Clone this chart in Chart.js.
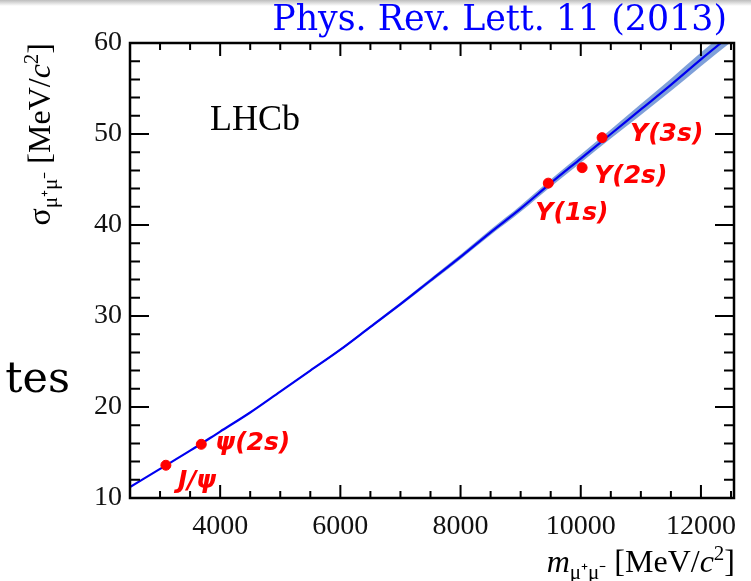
<!DOCTYPE html>
<html>
<head>
<meta charset="utf-8">
<script src="https://cdn.jsdelivr.net/npm/chart.js@4.4.1/dist/chart.umd.min.js"></script>
<style>
  html, body { margin: 0; padding: 0; background: #fff; }
  #wrap { position: relative; width: 751px; height: 581px; }
</style>
</head>
<body>
<div id="wrap"><canvas id="resChart"></canvas></div>
<script>
// Fitted resolution curve
const massGrid = [2500, 3000, 3500, 4000, 4500, 5000, 5500, 6000, 6500, 7000, 7500,
                  8000, 8500, 9000, 9500, 10000, 10500, 11000, 11500, 12000, 12500, 13000];
const sigmaFit = [11.2, 13.2, 15.2, 17.3, 19.4, 21.7, 24.0, 26.3, 28.8, 31.3, 33.9,
                  36.5, 39.2, 41.8, 44.6, 47.3, 50.0, 52.7, 55.4, 58.2, 60.9, 63.6];
const sigmaFitErr = [0.05, 0.05, 0.05, 0.06, 0.07, 0.08, 0.1, 0.12, 0.15, 0.18, 0.22,
                     0.26, 0.3, 0.35, 0.4, 0.45, 0.5, 0.6, 0.68, 0.75, 0.8, 0.85];

// Measured resonances
const resonanceNames = ['J/ψ', 'ψ(2s)', 'Υ(1s)', 'Υ(2s)', 'Υ(3s)'];
const resonanceMass = [3097, 3686, 9460, 10023, 10355];
const resonanceSigma = [13.6, 15.9, 44.6, 46.3, 49.6];

// Tick labels
const xTickLabels = [4000, 6000, 8000, 10000, 12000];
const yTickLabels = [10, 20, 30, 40, 50, 60];

const SERIF = '"Liberation Serif", "Times New Roman", serif';

// label offsets from the marker, in px
const labelOffsets = [[12, 16], [14, -1], [-13, 30], [12, 9], [28, -3]];

function tickRange(from, to, step) {
    const out = [];
    for (let v = from; v <= to + 1e-9; v += step) out.push({ value: v });
    return out;
}

function drawPieces(ctx, pieces, x, y) {
    pieces.forEach(p => {
        ctx.font = p.f;
        ctx.fillText(p.t, x, y + (p.dy || 0));
        x += ctx.measureText(p.t).width;
    });
}
function piecesWidth(ctx, pieces) {
    let w = 0;
    pieces.forEach(p => { ctx.font = p.f; w += ctx.measureText(p.t).width; });
    return w;
}

const decorPlugin = {
    id: 'decor',
    afterDraw(chart) {
        const ctx = chart.ctx;
        const a = chart.chartArea;
        const xs = chart.scales.x, ys = chart.scales.y;
        ctx.save();

        // top grey strip of the slide
        const g = ctx.createLinearGradient(0, 0, 0, 6);
        g.addColorStop(0, '#bdbdbd');
        g.addColorStop(1, '#ffffff');
        ctx.fillStyle = g;
        ctx.fillRect(0, 0, 751, 6);

        // frame
        ctx.strokeStyle = '#000';
        ctx.lineWidth = 2.5;
        ctx.strokeRect(a.left, a.top, a.right - a.left, a.bottom - a.top);

        // inward ticks on all four sides
        ctx.lineWidth = 2;
        ctx.beginPath();
        xs.ticks.forEach(t => {
            const px = xs.getPixelForValue(t.value);
            if (px <= a.left + 1 || px >= a.right - 1) return;
            const len = t.value % 2000 === 0 ? 13 : 7;
            ctx.moveTo(px, a.bottom); ctx.lineTo(px, a.bottom - len);
            ctx.moveTo(px, a.top); ctx.lineTo(px, a.top + len);
        });
        ys.ticks.forEach(t => {
            const py = ys.getPixelForValue(t.value);
            if (py <= a.top + 1 || py >= a.bottom - 1) return;
            const len = t.value % 10 === 0 ? 19 : 10;
            ctx.moveTo(a.left, py); ctx.lineTo(a.left + len, py);
            ctx.moveTo(a.right, py); ctx.lineTo(a.right - len, py);
        });
        ctx.stroke();

        // resonance labels
        const meta = chart.getDatasetMeta(3);
        ctx.fillStyle = '#ff0000';
        ctx.textAlign = 'left';
        ctx.textBaseline = 'middle';
        ctx.font = 'italic bold 25px "DejaVu Sans", sans-serif';
        meta.data.forEach((pt, i) => {
            ctx.fillText(resonanceNames[i], pt.x + labelOffsets[i][0], pt.y + labelOffsets[i][1]);
        });

        // LHCb
        ctx.fillStyle = '#000';
        ctx.textBaseline = 'alphabetic';
        ctx.font = '36px ' + SERIF;
        ctx.fillText('LHCb', 210, 130);

        // axis titles
        const big = '32px ' + SERIF, bigIt = 'italic 32px ' + SERIF, small = '21px ' + SERIF;
        const xPieces = [
            { t: 'm', f: bigIt },
            { t: 'μ⁺μ⁻', f: small, dy: 7 },
            { t: ' [MeV/', f: big },
            { t: 'c', f: bigIt },
            { t: '2', f: small, dy: -12 },
            { t: ']', f: big }
        ];
        drawPieces(ctx, xPieces, 735 - piecesWidth(ctx, xPieces), 572);

        const yPieces = [
            { t: 'σ', f: big },
            { t: 'μ⁺μ⁻', f: small, dy: 7 },
            { t: ' [MeV/', f: big },
            { t: 'c', f: bigIt },
            { t: '2', f: small, dy: -12 },
            { t: ']', f: big }
        ];
        ctx.save();
        ctx.translate(50, 43);
        ctx.rotate(-Math.PI / 2);
        drawPieces(ctx, yPieces, -piecesWidth(ctx, yPieces), 0);
        ctx.restore();

        // slide header
        ctx.fillStyle = '#0000ff';
        ctx.textAlign = 'right';
        ctx.font = '30px "DejaVu Serif", serif';
        const w = ctx.measureText('Phys. Rev. Lett. 11 (2013)').width;
        ctx.font = (30 * 455 / w).toFixed(1) + 'px "DejaVu Serif", serif';
        ctx.fillText('Phys. Rev. Lett. 11 (2013)', 727, 30);

        // cut-off slide text
        ctx.fillStyle = '#000';
        ctx.font = '43px "DejaVu Serif", serif';
        ctx.fillText('tes', 70, 392);

        ctx.restore();
    }
};

const fitPoints = massGrid.map((m, i) => ({ x: m, y: sigmaFit[i] }));
const bandHigh = massGrid.map((m, i) => ({ x: m, y: sigmaFit[i] + sigmaFitErr[i] }));
const bandLow = massGrid.map((m, i) => ({ x: m, y: sigmaFit[i] - sigmaFitErr[i] }));
const resPoints = resonanceMass.map((m, i) => ({ x: m, y: resonanceSigma[i] }));

new Chart(document.getElementById('resChart'), {
    type: 'line',
    data: {
        datasets: [{
            data: bandHigh,
            borderWidth: 0,
            pointRadius: 0,
            backgroundColor: 'rgba(120, 155, 215, 0.95)',
            fill: '+1',
            cubicInterpolationMode: 'monotone',
            order: 3
        }, {
            data: bandLow,
            borderWidth: 0,
            pointRadius: 0,
            fill: false,
            cubicInterpolationMode: 'monotone',
            order: 2
        }, {
            data: fitPoints,
            borderColor: '#0000f0',
            borderWidth: 2.2,
            pointRadius: 0,
            fill: false,
            cubicInterpolationMode: 'monotone',
            order: 1
        }, {
            type: 'scatter',
            data: resPoints,
            backgroundColor: '#ff0000',
            borderColor: '#ff0000',
            pointRadius: 5,
            order: 0
        }]
    },
    options: {
        responsive: true,
        maintainAspectRatio: false,
        animation: false,
        layout: { padding: { top: 43, right: 17, left: 0, bottom: 0 } },
        plugins: {
            legend: { display: false },
            tooltip: { enabled: false }
        },
        scales: {
            x: {
                type: 'linear',
                min: 2500,
                max: 12550,
                afterBuildTicks: s => { s.ticks = tickRange(3000, 12500, 500); },
                afterFit: s => { s.height = 83; },
                grid: { display: false, drawTicks: false },
                border: { display: false },
                ticks: {
                    autoSkip: false,
                    maxRotation: 0,
                    padding: 12,
                    color: '#111',
                    font: { family: 'Liberation Serif', size: 28 },
                    callback: v => xTickLabels.includes(v) ? String(v) : ''
                }
            },
            y: {
                type: 'linear',
                min: 10,
                max: 60,
                afterBuildTicks: s => { s.ticks = tickRange(10, 60, 2); },
                afterFit: s => { s.width = 130; },
                grid: { display: false, drawTicks: false },
                border: { display: false },
                ticks: {
                    autoSkip: false,
                    padding: 8,
                    color: '#111',
                    font: { family: 'Liberation Serif', size: 28 },
                    callback: v => yTickLabels.includes(v) ? String(v) : ''
                }
            }
        }
    },
    plugins: [decorPlugin]
});
</script>
</body>
</html>
